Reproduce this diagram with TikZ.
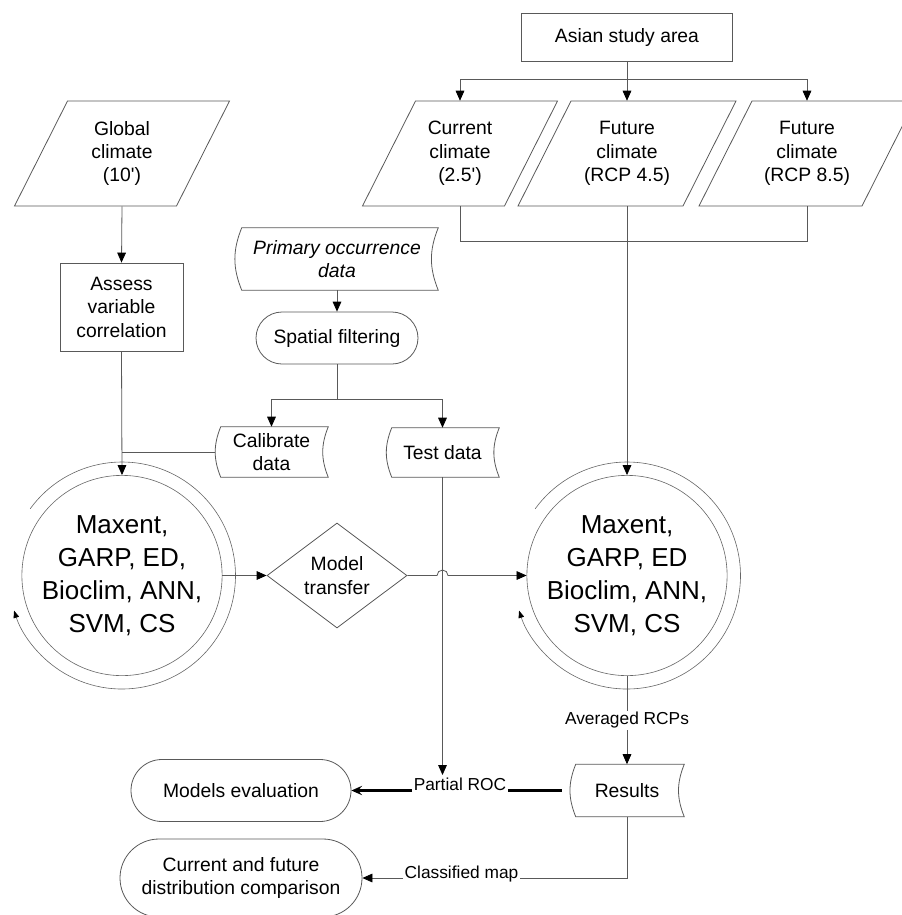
\documentclass[tikz,border=0pt]{standalone}
\usepackage{fontspec}
\setmainfont{Liberation Sans}
\usetikzlibrary{arrows.meta,calc,shapes.geometric}
\tikzset{
  ln/.style={draw=black!65, line width=0.6pt},
  cln/.style={draw=black!60, line width=0.45pt},
  arr/.style={ln, -{Triangle[length=7.5pt,width=6.5pt,color=black]}},
  thk/.style={draw=black, line width=1.6pt},
  thkarr/.style={thk, -{Stealth[length=8pt,width=7pt,inset=3pt]}},
  arcarr/.style={cln, -{Triangle[length=5.5pt,width=4.2pt,color=black]}},
  txt/.style={font=\fontsize{14.5}{17.6}\selectfont, align=center},
  itxt/.style={font=\fontsize{14.5}{17.6}\selectfont\itshape, align=center},
  bigtxt/.style={font=\fontsize{19.5}{24.8}\selectfont, align=center},
  lbl/.style={font=\fontsize{13}{15}\selectfont, inner xsep=1pt, inner ysep=2pt},
  boxnode/.style={ln, txt, inner sep=0pt},
  pnode/.style={txt, inner sep=0pt, minimum width=80pt, minimum height=78.75pt},
  snode/.style={txt, inner sep=0pt},
  shp/.style={ln}
}
\newcommand{\paral}[2]{\draw[shp] ($(#1.center)+(-#2+26.5,-52.5)$) -- ($(#1.center)+(#2+26.5,-52.5)$) -- ($(#1.center)+(#2-26.5,52.5)$) -- ($(#1.center)+(-#2-26.5,52.5)$) -- cycle;}
\newcommand{\storedshape}[1]{\draw[shp] ([xshift=4.5pt]#1.north west) to[bend right=22] ([xshift=4.5pt]#1.south west) -- (#1.south east) to[bend left=22] (#1.north east) -- cycle;}
\begin{document}
\begin{tikzpicture}[x=0.75pt,y=-0.75pt]
\useasboundingbox (0,0) rectangle (902,915);
\clip (0,0) rectangle (902,915);

% top
\node[boxnode, minimum width=158.25pt, minimum height=36pt] (asia) at (627,37) {Asian study area};
\node[pnode] (glob) at (122,153.5) {Global\\climate\\(10\textquotesingle)};
\node[pnode] (cur) at (460,153.5) {Current\\climate\\(2.5\textquotesingle)};
\node[pnode] (f45) at (627,153.5) {Future\\climate\\(RCP 4.5)};
\node[pnode] (f85) at (807,153.5) {Future\\climate\\(RCP 8.5)};
\paral{glob}{81}
\paral{cur}{71}
\paral{f45}{82.5}
\paral{f85}{81.5}

\node[boxnode, minimum width=92.25pt, minimum height=66pt] (assess) at (121.5,307) {Assess\\variable\\correlation};

\node[snode, itxt, minimum width=151.5pt, minimum height=46.5pt] (prim) at (337,259) {Primary occurrence\\data};
\storedshape{prim}
\node[boxnode, rounded corners=19.5pt, minimum width=121.5pt, minimum height=39pt] (spat) at (337,338) {Spatial filtering};
\node[snode, minimum width=84.75pt, minimum height=37.5pt] (cal) at (271.5,452) {Calibrate\\data};
\storedshape{cal}
\node[snode, minimum width=84.75pt, minimum height=36.75pt] (test) at (442.5,452.5) {Test data};
\storedshape{test}

% circles and diamond
\node[circle, cln, bigtxt, minimum size=144.75pt, inner sep=0pt] (c1) at (122,575.5) {Maxent,\\GARP, ED,\\Bioclim, ANN,\\SVM, CS};
\node[circle, cln, bigtxt, minimum size=144.75pt, inner sep=0pt] (c2) at (627,575.5) {Maxent,\\GARP, ED\\Bioclim, ANN,\\SVM, CS};
\draw[arcarr] ($(c1.center)+(216:113.5)$) arc[start angle=216, end angle=522, radius=113.5];
\draw[arcarr] ($(c2.center)+(216:113.5)$) arc[start angle=216, end angle=522, radius=113.5];
\node[diamond, ln, txt, aspect=1.33, minimum width=105pt, minimum height=78.75pt, inner sep=0pt] (dia) at (337,575.5) {Model\\transfer};

% bottom
\node[snode, minimum width=85.5pt, minimum height=39pt] (res) at (627,790.5) {Results};
\storedshape{res}
\node[boxnode, rounded corners=23.25pt, minimum width=165pt, minimum height=46.5pt] (meval) at (241,790.5) {Models evaluation};
\node[boxnode, rounded corners=29.25pt, minimum width=181.5pt, minimum height=58.5pt] (cfd) at (241,878) {Current and future\\distribution comparison};
\node[lbl, anchor=base] (proc) at (460,790.5) {Partial ROC};
\node[lbl, anchor=base] (cmap) at (461.5,878) {Classified map};

% connectors
\coordinate (sp1) at (627,79);
\draw[arr] (asia.south) -- (f45.north);
\draw[arr] (sp1) -| (cur.north);
\draw[arr] (sp1) -| (f85.north);
\draw[ln] (cur.south) -- ++(0,35) -| (f85.south);
\draw[arr] (f45.south) -- (c2.north);
\draw[arr] (glob.south) -- (assess.north);
\draw[arr] (assess.south) -- (c1.north);
\draw[ln] (cal.west) -- (cal.west -| c1.north);
\draw[arr] (prim.south) -- (spat.north);
\draw[ln] (spat.south) -- ++(0,35) coordinate (sp2);
\draw[arr] (sp2) -| (cal.north);
\draw[arr] (sp2) -| (test.north);
\draw[arr] (c1.east) -- (dia.west);
\draw[arr] (dia.east) -- ($(dia.east -| test.south)+(-5.5,0)$) arc[start angle=180, end angle=360, radius=5.5] -- (c2.west);
\draw[arr] (test.south) -- (test.south |- proc.north);
\draw[thk, shorten <=6pt] (res.west) -- (proc.base east);
\draw[thkarr] (proc.base west) -- (meval.east);
\draw[arr] (c2.south) -- node[lbl, fill=white, inner ysep=1pt] (avg) {Averaged RCPs} (res.north);
\draw[ln] (res.south) |- (cmap.base east);
\draw[arr] (cmap.base west) -- (cfd.east);
\end{tikzpicture}
\end{document}
